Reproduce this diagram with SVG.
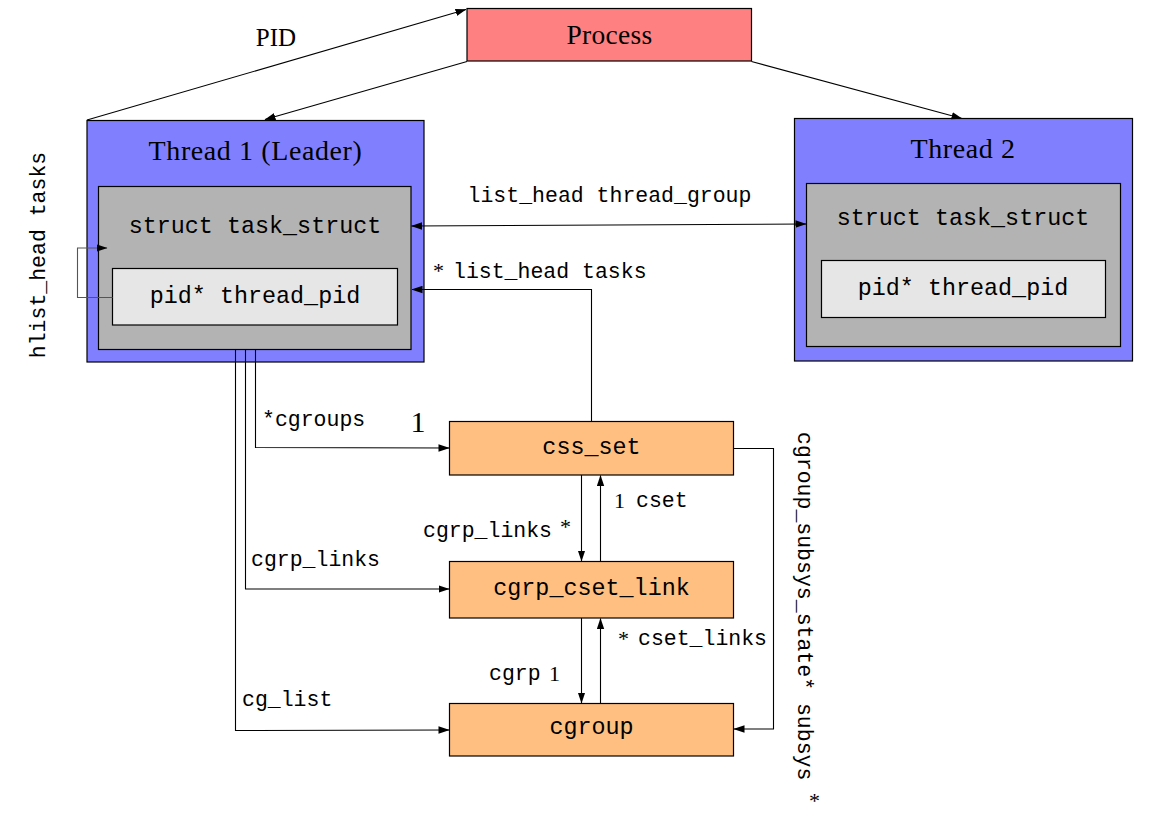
<svg xmlns="http://www.w3.org/2000/svg" width="1163" height="828" viewBox="0 0 1163 828">
<defs>
<marker id="arr" viewBox="0 0 11 8" refX="10.5" refY="4" markerWidth="11" markerHeight="8" markerUnits="userSpaceOnUse" orient="auto-start-reverse">
<path d="M0,0.3 L11,4 L0,7.7 z" fill="#000"/>
</marker>
</defs>
<style>
.serif{font-family:"Liberation Serif","DejaVu Serif",serif;fill:#000}
.mono{font-family:"Liberation Mono","DejaVu Sans Mono",monospace;fill:#000}
.lbl{font-size:21.5px}
.box{font-size:23.4px}
.edge{fill:none;stroke:#000;stroke-width:1.1}
.node rect{stroke:#000;stroke-width:1.2}
.thread{fill:#8080FF}
.ts{fill:#B3B3B3}
.pid{fill:#E6E6E6}
.cg{fill:#FFBF80}
</style>
<rect width="1163" height="828" fill="#fff"/>

<g id="process" class="node">
<rect x="467" y="8.5" width="284.5" height="52.5" fill="#FF8080"/>
<text class="serif" x="609.5" y="44" font-size="27.5" text-anchor="middle" letter-spacing="0.3">Process</text>
</g>

<g id="thread1" class="node">
<rect class="thread" x="87" y="120.5" width="337" height="241.5"/>
<text class="serif" x="255.5" y="160" font-size="28" text-anchor="middle" letter-spacing="0.6">Thread 1 (Leader)</text>
<g id="thread1_task">
<rect class="ts" x="98.5" y="186.5" width="312.5" height="163"/>
<text class="mono box" x="255" y="233" text-anchor="middle">struct task_struct</text>
</g>
<g id="thread1_pid">
<rect class="pid" x="112.5" y="268.5" width="285" height="56.5"/>
<text class="mono box" x="255" y="303" text-anchor="middle">pid* thread_pid</text>
</g>
</g>

<g id="thread2" class="node">
<rect class="thread" x="794.5" y="118.5" width="338" height="242.5"/>
<text class="serif" x="963" y="158" font-size="28" text-anchor="middle" letter-spacing="0.6">Thread 2</text>
<g id="thread2_task">
<rect class="ts" x="806.5" y="183.5" width="314" height="163"/>
<text class="mono box" x="963" y="225" text-anchor="middle">struct task_struct</text>
</g>
<g id="thread2_pid">
<rect class="pid" x="821.5" y="260.5" width="284" height="57"/>
<text class="mono box" x="963" y="295" text-anchor="middle">pid* thread_pid</text>
</g>
</g>

<g id="css_set" class="node">
<rect class="cg" x="449.5" y="421.5" width="284" height="53.5"/>
<text class="mono box" x="591.5" y="454" text-anchor="middle">css_set</text>
</g>
<g id="cgrp_cset_link" class="node">
<rect class="cg" x="449.5" y="561.5" width="284" height="56.5"/>
<text class="mono box" x="591.5" y="595" text-anchor="middle">cgrp_cset_link</text>
</g>
<g id="cgroup" class="node">
<rect class="cg" x="449.5" y="703.5" width="284" height="52.5"/>
<text class="mono box" x="591.5" y="734" text-anchor="middle">cgroup</text>
</g>

<g id="connectors">
<path class="edge" d="M87,120 L466,9.5" marker-end="url(#arr)"/>
<path class="edge" d="M467,61.5 L265,119.5" marker-end="url(#arr)"/>
<path class="edge" d="M751.5,61.5 L962,118.5" marker-end="url(#arr)"/>
<path class="edge" d="M411.5,226 L806,224" marker-start="url(#arr)" marker-end="url(#arr)"/>
<path class="edge" d="M591.5,421.5 L591.5,289.5 L412,289.5" marker-end="url(#arr)"/>
<path class="edge" style="stroke:#555" d="M112.5,297.5 L77.5,297.5 L77.5,248 L107,248" marker-end="url(#arr)"/>
<path class="edge" d="M255.5,350 L255.5,447.5 L449,448" marker-end="url(#arr)"/>
<path class="edge" d="M245.5,350 L245.5,589 L449,589" marker-end="url(#arr)"/>
<path class="edge" d="M235.5,350 L235.5,730.5 L449,730" marker-end="url(#arr)"/>
<path class="edge" d="M581.5,475 L581.5,561" marker-end="url(#arr)"/>
<path class="edge" d="M600.5,561.5 L600.5,475.5" marker-end="url(#arr)"/>
<path class="edge" d="M581.5,618 L581.5,703" marker-end="url(#arr)"/>
<path class="edge" d="M600.5,703.5 L600.5,618.5" marker-end="url(#arr)"/>
<path class="edge" d="M733.5,448.5 L773.5,448.5 L773.5,729 L734,729" marker-end="url(#arr)"/>
</g>

<g id="labels">
<text class="serif" x="276" y="46" font-size="25" text-anchor="middle">PID</text>
<text class="mono lbl" x="609.5" y="202" text-anchor="middle">list_head thread_group</text>
<text class="serif" x="433" y="278" font-size="22">*</text>
<text class="mono lbl" x="453" y="278">list_head tasks</text>
<text class="mono lbl" transform="translate(45,255) rotate(-90)" text-anchor="middle">hlist_head tasks</text>
<text class="mono lbl" x="262" y="426">*cgroups</text>
<text class="serif" x="418" y="432" font-size="30" text-anchor="middle">1</text>
<text class="mono lbl" x="251" y="566">cgrp_links</text>
<text class="mono lbl" x="242" y="706">cg_list</text>
<text class="serif" x="614" y="508" font-size="22">1</text>
<text class="mono lbl" x="636" y="507">cset</text>
<text class="mono lbl" x="423" y="537">cgrp_links</text>
<text class="serif" x="560" y="534" font-size="22">*</text>
<text class="serif" x="618" y="646" font-size="22">*</text>
<text class="mono lbl" x="638" y="645">cset_links</text>
<text class="mono lbl" x="489" y="680">cgrp</text>
<text class="serif" x="549" y="681" font-size="22">1</text>
<text class="mono lbl" transform="translate(798,432) rotate(90)">cgroup_subsys_state* subsys</text>
<text class="serif" x="809" y="808" font-size="22">*</text>
</g>
</svg>
